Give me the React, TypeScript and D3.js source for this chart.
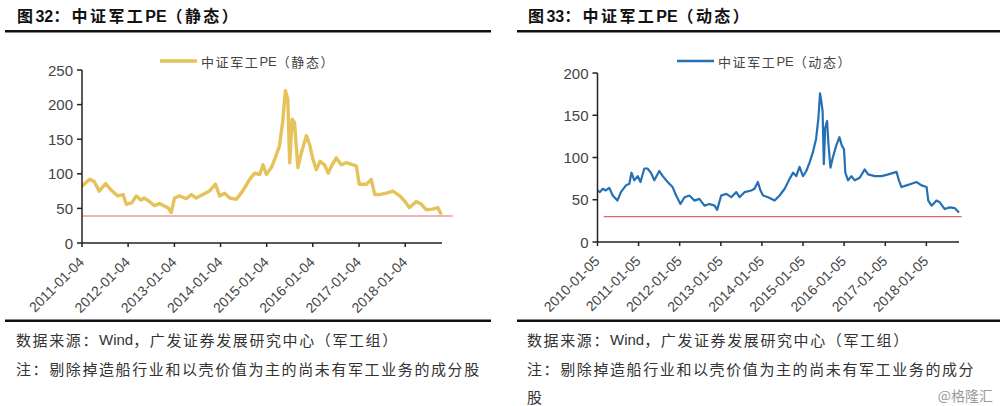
import React from "react";
import * as d3 from "d3";

// ---------- Data ----------
const staticDates = [
  "2011-01-04","2011-03-05","2011-04-10","2011-05-20","2011-07-10","2011-08-20","2011-10-15","2011-11-25","2011-12-20",
  "2012-02-01","2012-03-08","2012-04-15","2012-05-10","2012-06-20","2012-07-30","2012-09-08","2012-10-20","2012-11-15","2012-12-10",
  "2013-01-05","2013-02-15","2013-04-08","2013-05-18","2013-06-25","2013-08-18","2013-10-08","2013-11-25","2013-12-28",
  "2014-02-05","2014-03-18","2014-05-08","2014-06-28","2014-08-22","2014-10-01","2014-11-10","2014-12-06",
  "2015-01-02","2015-02-10","2015-03-08","2015-04-15","2015-05-10","2015-06-01","2015-06-20","2015-07-05","2015-07-25","2015-08-12","2015-09-08","2015-10-05","2015-11-14","2015-12-10",
  "2016-01-05","2016-02-01","2016-03-01","2016-04-05","2016-05-05","2016-05-30","2016-07-08","2016-08-15","2016-09-24","2016-11-18","2016-12-14",
  "2017-01-05","2017-03-05","2017-04-10","2017-05-08","2017-06-14","2017-08-08","2017-09-28","2017-11-22",
  "2018-01-02","2018-02-06","2018-04-01","2018-05-12","2018-06-20","2018-08-10","2018-09-20","2018-10-16",
];
const staticValues = [
  82, 92, 89, 75, 86, 77, 68, 70, 56,
  58, 68, 62, 65, 60, 54, 57, 53, 51, 44,
  65, 68, 64, 70, 65, 70, 75, 85, 68,
  72, 65, 63, 75, 92, 101, 99, 113,
  99, 109, 121, 140, 174, 220, 208, 116, 179, 174, 109, 130, 155, 142,
  121, 106, 118, 113, 101, 111, 123, 113, 116, 113, 111,
  85, 85, 92, 70, 70, 72, 75, 68,
  60, 51, 60, 56, 48, 49, 51, 41,
];

const dynamicDates = [
  "2010-01-05","2010-01-26","2010-02-20","2010-03-20","2010-04-20","2010-05-20","2010-07-01","2010-08-01","2010-09-15","2010-10-15","2010-11-03","2010-11-28","2010-12-28",
  "2011-01-22","2011-02-25","2011-03-25","2011-04-25","2011-05-25","2011-07-08","2011-08-08","2011-09-20","2011-11-03","2011-12-05",
  "2012-01-12","2012-02-17","2012-04-01","2012-05-15","2012-06-28","2012-08-12","2012-09-26","2012-11-10","2012-12-03",
  "2013-01-08","2013-02-22","2013-04-07","2013-05-22","2013-06-20","2013-08-03","2013-10-02","2013-10-31","2013-11-30","2013-12-23",
  "2014-01-15","2014-02-28","2014-04-28","2014-06-11","2014-07-26","2014-09-09","2014-10-08","2014-11-06","2014-12-05",
  "2015-01-05","2015-02-03","2015-03-04","2015-04-02","2015-05-01","2015-05-22","2015-06-05","2015-06-16","2015-06-28","2015-07-09","2015-07-21","2015-08-07","2015-08-19","2015-09-06","2015-09-27","2015-10-27","2015-11-25","2015-12-16",
  "2016-01-04","2016-01-16","2016-02-09","2016-03-10","2016-04-08","2016-05-23","2016-07-06","2016-08-05","2016-10-04","2016-12-03",
  "2017-01-31","2017-04-15","2017-05-06","2017-05-29","2017-07-13","2017-08-26","2017-10-09","2017-11-23",
  "2018-01-07","2018-01-22","2018-02-20","2018-04-05","2018-05-04","2018-06-17","2018-08-01","2018-09-15","2018-10-22",
];
const dynamicValues = [
  61, 59, 63, 61, 64, 55, 49, 59, 67, 69, 82, 73, 78,
  71, 87, 87, 82, 73, 84, 78, 71, 65, 55,
  45, 53, 55, 49, 51, 43, 45, 43, 38,
  55, 57, 53, 59, 53, 59, 61, 63, 71, 61,
  55, 53, 49, 55, 63, 75, 82, 78, 89,
  78, 84, 94, 106, 122, 147, 176, 167, 155, 92, 135, 143, 116, 88, 100, 114, 124, 114,
  110, 82, 73, 78, 73, 76, 86, 80, 78, 78,
  80, 83, 73, 65, 67, 69, 71, 67,
  65, 49, 43, 49, 47, 39, 41, 40, 35,
];

const staticTicks = ["2011-01-04","2012-01-04","2013-01-04","2014-01-04","2015-01-04","2016-01-04","2017-01-04","2018-01-04"];
const dynamicTicks = ["2010-01-05","2011-01-05","2012-01-05","2013-01-05","2014-01-05","2015-01-05","2016-01-05","2017-01-05","2018-01-05"];
const staticYTicks = [0, 50, 100, 150, 200, 250];
const dynamicYTicks = [0, 50, 100, 150, 200];

const staticRedValue = 39;
const staticRedSpan = ["2011-01-04", "2019-01-15"];
const dynamicRedValue = 30;
const dynamicRedSpan = ["2010-03-01", "2018-11-15"];

const parse = d3.timeParse("%Y-%m-%d");

const CJK = "'Noto Sans CJK SC', 'Noto Sans', sans-serif";
const LATIN = "'Liberation Sans', Arial, sans-serif";

// Split into runs so that letter spacing is only applied to CJK characters
function Spaced({ text, spacing }: { text: string; spacing: number }) {
  const runs: { s: string; cjk: boolean }[] = [];
  for (const ch of text) {
    const cjk = /[^\x00-\x7F]/.test(ch);
    const last = runs[runs.length - 1];
    if (last && last.cjk === cjk) last.s += ch;
    else runs.push({ s: ch, cjk });
  }
  return (
    <>
      {runs.map((r, i) => (
        <tspan key={i} letterSpacing={r.cjk ? spacing : 0} fontFamily={r.cjk ? CJK : LATIN}>
          {r.s}
        </tspan>
      ))}
    </>
  );
}

type PanelProps = {
  ox: number;
  title: string;
  legend: string;
  color: string;
  lineWidth: number;
  dates: string[];
  values: number[];
  ticks: string[];
  yTicks: number[];
  xDomain: [string, string];
  xRange: [number, number];
  yMax: number;
  yRange: [number, number];
  redValue: number;
  redSpan: string[];
  legendX: number;
  noteX: number;
  notes: string[];
};

function Panel(p: PanelProps) {
  const x = d3.scaleTime().domain([parse(p.xDomain[0])!, parse(p.xDomain[1])!]).range(p.xRange);
  const y = d3.scaleLinear().domain([0, p.yMax]).range(p.yRange);
  const pts = p.dates.map((d, i) => [parse(d)!, p.values[i]] as [Date, number]);
  const line = d3.line<[Date, number]>().x((d) => x(d[0])).y((d) => y(d[1]));
  const y0 = y(0);
  const axisColor = "#222";
  return (
    <g>
      <text x={p.noteX + 1} y={22} fontFamily={CJK} fontWeight="bold" fontSize={16} fill="#111">
        <Spaced text={p.title} spacing={2.4} />
      </text>
      <rect x={p.ox + 5} y={30} width={486} height={2.5} fill="#111" />
      {/* legend */}
      <line x1={p.legendX} x2={p.legendX + 37} y1={61} y2={61} stroke={p.color} strokeWidth={p.lineWidth + 0.3} />
      <text x={p.legendX + 41} y={61} dominantBaseline="central" fontFamily={CJK} fontSize={13} fill="#444">
        <Spaced text={p.legend} spacing={1.6} />
      </text>
      {/* red reference line */}
      <line
        x1={x(parse(p.redSpan[0])!)}
        x2={x(parse(p.redSpan[1])!)}
        y1={y(p.redValue)}
        y2={y(p.redValue)}
        stroke="#E06868"
        strokeWidth={1.2}
      />
      {/* series */}
      <path d={line(pts) || ""} fill="none" stroke={p.color} strokeWidth={p.lineWidth} strokeLinejoin="round" />
      {/* y axis */}
      <line x1={p.xRange[0]} x2={p.xRange[0]} y1={y(p.yMax)} y2={y0} stroke={axisColor} strokeWidth={1.5} />
      {p.yTicks.map((t) => (
        <g key={t}>
          <line x1={p.xRange[0] - 5} x2={p.xRange[0]} y1={y(t)} y2={y(t)} stroke={axisColor} strokeWidth={1.5} />
          <text x={p.xRange[0] - 9} y={y(t)} textAnchor="end" dominantBaseline="central" fontFamily={LATIN} fontSize={15} fill="#444">
            {t}
          </text>
        </g>
      ))}
      {/* x axis */}
      <line x1={p.xRange[0]} x2={p.xRange[1]} y1={y0} y2={y0} stroke={axisColor} strokeWidth={1.5} />
      {p.ticks.map((t) => {
        const tx = x(parse(t)!);
        return (
          <g key={t}>
            <line x1={tx} x2={tx} y1={y0} y2={y0 + 4} stroke={axisColor} strokeWidth={1.5} />
            <text
              transform={`translate(${tx + 3},${y0 + 20}) rotate(-45)`}
              textAnchor="end"
              fontFamily={LATIN}
              fontSize={14}
              fill="#444"
            >
              {t}
            </text>
          </g>
        );
      })}
      <rect x={p.ox + 5} y={319.5} width={486} height={2.5} fill="#111" />
      {p.notes.map((n, i) => (
        <text key={i} x={p.noteX} y={339 + i * 28.5} dominantBaseline="central" fontFamily={CJK} fontSize={15} fill="#333">
          <Spaced text={n} spacing={1.6} />
        </text>
      ))}
    </g>
  );
}

export default function App() {
  return (
    <svg width={1000} height={406} style={{ position: "absolute", left: 0, top: 0, background: "#fff" }}>
      <rect width={1000} height={406} fill="#fff" />
      <Panel
        ox={0}
        title="图32：中证军工PE（静态）"
        legend="中证军工PE（静态）"
        color="#E6C25A"
        lineWidth={3.4}
        dates={staticDates}
        values={staticValues}
        ticks={staticTicks}
        yTicks={staticYTicks}
        xDomain={["2011-01-04", "2018-10-22"]}
        xRange={[82, 442]}
        yMax={250}
        yRange={[243, 70]}
        redValue={staticRedValue}
        redSpan={staticRedSpan}
        legendX={160}
        noteX={16}
        notes={["数据来源：Wind，广发证券发展研究中心（军工组）", "注：剔除掉造船行业和以壳价值为主的尚未有军工业务的成分股"]}
      />
      <Panel
        ox={512}
        title="图33：中证军工PE（动态）"
        legend="中证军工PE（动态）"
        color="#2570B5"
        lineWidth={2.2}
        dates={dynamicDates}
        values={dynamicValues}
        ticks={dynamicTicks}
        yTicks={dynamicYTicks}
        xDomain={["2010-01-05", "2018-10-22"]}
        xRange={[597.5, 959]}
        yMax={200}
        yRange={[242, 73]}
        redValue={dynamicRedValue}
        redSpan={dynamicRedSpan}
        legendX={677}
        noteX={527}
        notes={["数据来源：Wind，广发证券发展研究中心（军工组）", "注：剔除掉造船行业和以壳价值为主的尚未有军工业务的成分", "股"]}
      />
      <text x={993} y={395} textAnchor="end" dominantBaseline="central" fontFamily={CJK} fontSize={14} fill="#9a9a9a">
        @格隆汇
      </text>
    </svg>
  );
}
